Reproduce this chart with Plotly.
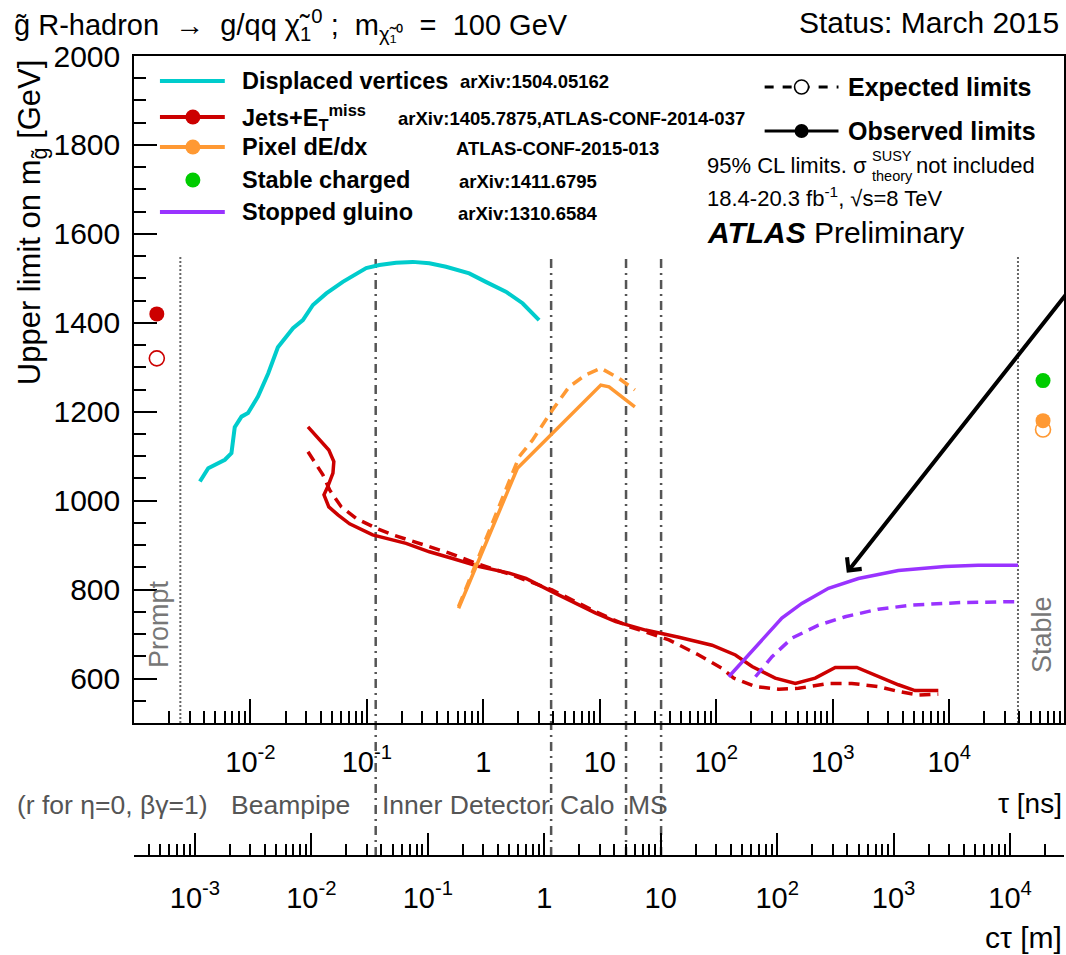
import math
import plotly.graph_objects as go

# ---------------- data (tau in ns, mass limits in GeV) ----------------
dv_tau = [0.00368, 0.00434, 0.00603, 0.00687, 0.00733, 0.00838, 0.00953, 0.0116, 0.0142,
          0.0172, 0.0232, 0.0282, 0.0344, 0.0448, 0.0621, 0.0809, 0.0986, 0.128, 0.178,
          0.247, 0.344, 0.478, 0.757, 1.05, 1.56, 2.17, 3.01]
dv_obs = [1043, 1073, 1092, 1107, 1165, 1189, 1197, 1234, 1286, 1345, 1388, 1406, 1440,
          1466, 1492, 1511, 1523, 1530, 1535, 1537, 1534, 1526, 1511, 1492, 1470, 1444, 1406]

jets_tau_obs = [0.0312, 0.0471, 0.0520, 0.0511, 0.0462, 0.0428, 0.0471, 0.0564, 0.0710,
                0.112, 0.217, 0.344, 0.545, 0.923, 1.67, 2.32, 3.92, 5.81, 9.23, 13.7,
                24.7, 47.8, 92.0, 146, 203, 321, 478, 708, 1052, 1611, 2466, 3664, 5093, 8072]
jets_obs = [1166, 1114, 1088, 1062, 1032, 1013, 986, 968, 948, 923, 904, 885, 870, 852,
            837, 825, 795, 773, 747, 728, 709, 693, 675, 653, 627, 601, 589, 601, 625, 625,
            604, 586, 573, 573]
jets_tau_exp = [0.0312, 0.0419, 0.0479, 0.0603, 0.0809, 0.120, 0.167, 0.247, 0.344, 0.511,
                0.865, 1.67, 3.92, 9.23, 17.8, 39.2, 70.8, 112, 141, 217, 344, 509, 920,
                1459, 2466, 3664, 5433, 8072]
jets_exp = [1110, 1058, 1024, 986, 960, 938, 923, 908, 897, 882, 859, 835, 799, 750, 717,
            687, 653, 623, 601, 582, 576, 578, 589, 589, 582, 571, 563, 565]
jets_prompt_tau = [0.00157]
jets_prompt_obs = [1420]
jets_prompt_exp = [1320]

pix_tau_obs = [0.613, 1.96, 10.2, 12.0, 20.0]
pix_obs = [758, 1073, 1260, 1256, 1211]
pix_tau_exp = [0.613, 1.84, 2.03, 2.64, 3.92, 5.45, 7.57, 10.2, 14.6, 20.0]
pix_exp = [762, 1069, 1099, 1136, 1204, 1256, 1283, 1298, 1275, 1249]

sg_tau_obs = [128, 178, 264, 366, 543, 920, 1663, 3664, 9204, 17740, 39084]
sg_obs = [604, 646, 694, 736, 769, 803, 825, 843, 852, 855, 855]
sg_tau_exp = [217, 301, 447, 755, 1279, 2466, 4764, 12764, 39084]
sg_exp = [604, 649, 691, 720, 739, 756, 765, 771, 773]

stable_tau = [64000]
stable_charged_obs = [1270]
pixel_stable_obs = [1180]
pixel_stable_exp = [1160]

# detector boundaries (tau in ns)
prompt_tau = 0.0025
stable_tau_line = 39000
region_tau = [0.119, 3.82, 16.8, 33.6]

tau_ticks = [1e-2, 1e-1, 1, 10, 1e2, 1e3, 1e4]
tau_labels = ["10<sup>-2</sup>", "10<sup>-1</sup>", "1", "10", "10<sup>2</sup>",
              "10<sup>3</sup>", "10<sup>4</sup>"]
ctau_ticks = [1e-3, 1e-2, 1e-1, 1, 10, 1e2, 1e3, 1e4]
ctau_labels = ["10<sup>-3</sup>", "10<sup>-2</sup>", "10<sup>-1</sup>", "1", "10",
               "10<sup>2</sup>", "10<sup>3</sup>", "10<sup>4</sup>"]

# ---------------- layout geometry ----------------
W, H = 1066, 955
ML, MR, MT, MB = 134, 0, 56, 99
PW = W - ML - MR
PH = H - MT - MB
DEC = 116.7
XLOG0 = -3.0
XLOG1 = XLOG0 + PW / DEC
C_M_PER_NS = 0.299792458
CSHIFT = math.log10(C_M_PER_NS)
FONT = "Liberation Sans"


def px(xp):
    return (xp - ML) / PW


def py(yp):
    return (H - MB - yp) / PH


YDOM0 = py(723)

CYAN = "#00CCCC"
RED = "#CC0000"
ORANGE = "#FF9933"
PURPLE = "#9933FF"
GREEN = "#00CC00"
LW = 3.5
DASH = "11px,7px"

fig = go.Figure()


def line(x, y, color, dash=None, width=LW):
    fig.add_trace(go.Scatter(x=x, y=y, mode="lines", showlegend=False, hoverinfo="skip",
                             line=dict(color=color, width=width, dash=dash or "solid")))


line(dv_tau, dv_obs, CYAN, width=4)
line(jets_tau_exp, jets_exp, RED, DASH)
line(jets_tau_obs, jets_obs, RED)
line(pix_tau_exp, pix_exp, ORANGE, DASH)
line(pix_tau_obs, pix_obs, ORANGE)
line(sg_tau_exp, sg_exp, PURPLE, DASH)
line(sg_tau_obs, sg_obs, PURPLE)


def pts(x, y, color, open_=False, size=15):
    fig.add_trace(go.Scatter(x=x, y=y, mode="markers", showlegend=False, hoverinfo="skip",
                             cliponaxis=False,
                             marker=dict(size=size, color="white" if open_ else color,
                                         symbol="circle",
                                         line=dict(color=color, width=1.6 if open_ else 0))))


pts(jets_prompt_tau, jets_prompt_exp, RED, open_=True)
pts(jets_prompt_tau, jets_prompt_obs, RED)
pts(stable_tau, pixel_stable_exp, ORANGE, open_=True)
pts(stable_tau, pixel_stable_obs, ORANGE)
pts(stable_tau, stable_charged_obs, GREEN)

# empty trace so the c*tau axis is drawn
fig.add_trace(go.Scatter(x=[], y=[], xaxis="x2", yaxis="y", showlegend=False))

minor_tau = [k * 10.0 ** d for d in range(-3, 5) for k in range(2, 10)]
minor_ctau = [k * 10.0 ** d for d in range(-4, 5) for k in range(2, 10)]

xfont = dict(family=FONT, size=29, color="black")
yfont = dict(family=FONT, size=30, color="black")

fig.update_layout(
    width=W, height=H,
    margin=dict(l=ML, r=MR, t=MT, b=MB, pad=0),
    paper_bgcolor="white", plot_bgcolor="white",
    font=dict(family=FONT, color="black"),
    xaxis=dict(type="log", range=[XLOG0, XLOG1], domain=[0, 1], anchor="y",
               showgrid=False, zeroline=False, showline=True, linecolor="black",
               linewidth=1.5, mirror=True, ticks="inside", ticklen=24, tickwidth=1.5,
               tickcolor="black", tickvals=tau_ticks, ticktext=tau_labels,
               tickfont=xfont, ticklabelstandoff=12,
               minor=dict(ticks="inside", ticklen=12, tickwidth=1.5, tickcolor="black",
                          tickvals=minor_tau, showgrid=False)),
    xaxis2=dict(type="log", range=[XLOG0 + CSHIFT, XLOG1 + CSHIFT], overlaying="x",
                anchor="free", position=0, side="bottom",
                showgrid=False, zeroline=False, showline=True, linecolor="black",
                linewidth=1.5, ticks="inside", ticklen=22, tickwidth=1.5,
                tickcolor="black", tickvals=ctau_ticks, ticktext=ctau_labels,
                tickfont=xfont, ticklabelstandoff=16,
                minor=dict(ticks="inside", ticklen=11, tickwidth=1.5, tickcolor="black",
                           tickvals=minor_ctau, showgrid=False)),
    yaxis=dict(range=[500, 2000], domain=[YDOM0, 1], anchor="x",
               showgrid=False, zeroline=False, showline=True, linecolor="black",
               linewidth=1.5, mirror=True, ticks="inside", ticklen=23, tickwidth=1.5,
               tickcolor="black", tick0=0, dtick=200, tickfont=yfont,
               ticklabelstandoff=6,
               minor=dict(ticks="inside", ticklen=12, tickwidth=1.5, tickcolor="black",
                          dtick=50, tick0=0, showgrid=False)),
)

shapes = []
for t in region_tau:
    shapes.append(dict(type="line", xref="x", yref="paper", x0=t, x1=t, y0=0, y1=py(256),
                       layer="below", line=dict(color="#555555", width=2.5,
                                                dash="9px,5px,2px,5px")))
for t in (prompt_tau, stable_tau_line):
    shapes.append(dict(type="line", xref="x", yref="paper", x0=t, x1=t, y0=YDOM0,
                       y1=py(256), layer="below",
                       line=dict(color="#666666", width=2, dash="2px,2px")))


def leg_line(x0, x1, y, color, dash="solid", width=4):
    shapes.append(dict(type="line", xref="paper", yref="paper", x0=px(x0), x1=px(x1),
                       y0=py(y), y1=py(y), line=dict(color=color, width=width, dash=dash)))


def leg_dot(xc, yc, color, r=7.5, open_=False):
    shapes.append(dict(type="circle", xref="paper", yref="paper", xsizemode="pixel",
                       ysizemode="pixel", xanchor=px(xc), yanchor=py(yc), x0=-r, x1=r,
                       y0=-r, y1=r, fillcolor="white" if open_ else color,
                       line=dict(color=color, width=1.6 if open_ else 0)))


ROWS = [81, 117, 147, 180, 212]
leg_line(160, 225, ROWS[0], CYAN)
leg_line(160, 225, ROWS[1], RED)
leg_dot(193, ROWS[1], RED)
leg_line(160, 225, ROWS[2], ORANGE)
leg_dot(193, ROWS[2], ORANGE)
leg_dot(193, ROWS[3], GREEN)
leg_line(160, 225, ROWS[4], PURPLE)
leg_line(766, 840, 87, "black", dash="9px,9px", width=3)
leg_dot(803, 87, "black", r=7, open_=True)
leg_line(766, 840, 131, "black", width=3)
leg_dot(803, 131, "black", r=7)

fig.update_layout(shapes=shapes)

ann = []


def text(xp, yp, s, size, xanchor="left", yanchor="middle", color="black", angle=0):
    ann.append(dict(xref="paper", yref="paper", x=px(xp), y=py(yp), text=s,
                    showarrow=False, xanchor=xanchor, yanchor=yanchor, textangle=angle,
                    font=dict(family=FONT, size=size, color=color)))


text(12, 25, "g\u0303 R-hadron  \u2192  g/qq \u03c7\u0303<sub>1</sub><sup>0</sup> ;  "
     "m<sub>\u03c7\u0303\u2081\u2070</sub>  =  100 GeV", 29)
text(1063, 23, "Status: March 2015", 30, xanchor="right")
text(32, 57, "Upper limit on m<sub>g\u0303</sub> [GeV]", 31, xanchor="center",
     yanchor="top", angle=-90)

legend_labels = ["<b>Displaced vertices</b>", "<b>Jets+E<sub>T</sub><sup>miss</sup></b>",
                 "<b>Pixel dE/dx</b>", "<b>Stable charged</b>", "<b>Stopped gluino</b>"]
legend_refs = ["arXiv:1504.05162", "arXiv:1405.7875,ATLAS-CONF-2014-037",
               "ATLAS-CONF-2015-013", "arXiv:1411.6795", "arXiv:1310.6584"]
ref_x = [459, 397, 455, 458, 457]
for r, lab, ref, rx in zip(ROWS, legend_labels, legend_refs, ref_x):
    text(240, r, lab, 23.5)
    text(rx, r + 1, "<b>" + ref + "</b>", 18.5)

text(848, 87, "<b>Expected limits</b>", 25)
text(848, 131, "<b>Observed limits</b>", 25)
text(706, 166, "95% CL limits. \u03c3", 22)
text(872, 156, "SUSY", 14.5)
text(872, 176, "theory", 14.5)
text(916, 166, "not included", 22)
text(706, 197, "18.4-20.3 fb<sup>-1</sup>, \u221as=8 TeV", 22)
text(706, 233, "<b><i>ATLAS</i></b> Preliminary", 30)

GREY = "#555555"
text(159, 624, "Prompt", 27, xanchor="center", color="#777777", angle=-90)
text(1044, 635, "Stable", 27, xanchor="center", color="#777777", angle=-90)
text(15, 805, "(r for \u03b7=0, \u03b2\u03b3=1)", 26.5, color=GREY)
text(229, 805, "Beampipe", 26.5, color=GREY)
text(381, 805, "Inner Detector", 26.5, color=GREY)
text(559, 805, "Calo", 26.5, color=GREY)
text(627, 805, "MS", 26.5, color=GREY)
text(1066, 803, "\u03c4 [ns]", 28, xanchor="right")
text(1066, 937, "c\u03c4 [m]", 30, xanchor="right")

# arrow pointing at the stopped-gluino curve
ann.append(dict(xref="x", yref="y", x=3.121, y=838, axref="x", ayref="y", ax=5.30, ay=1562,
                showarrow=True, arrowhead=4, arrowsize=0.9, arrowwidth=4,
                arrowcolor="black", standoff=0, text=""))

fig.update_layout(annotations=ann)
fig.write_html("out.html")
